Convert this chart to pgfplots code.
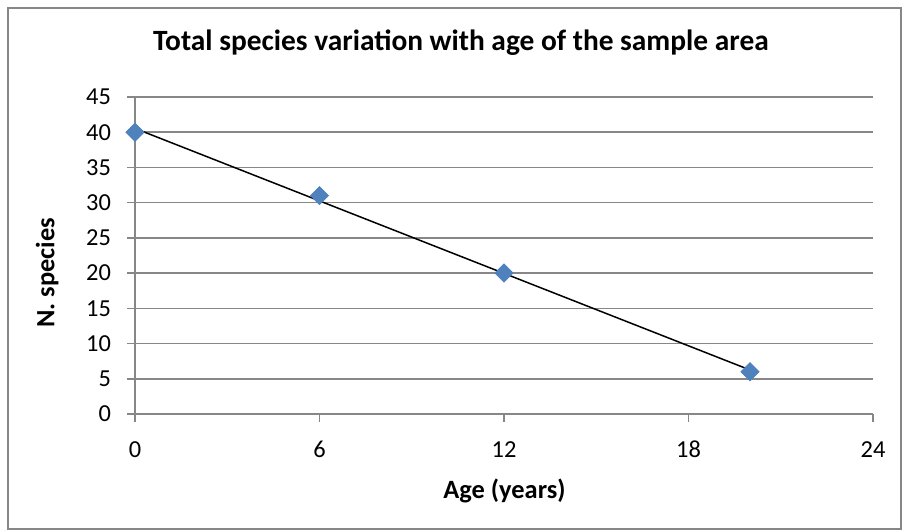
\documentclass[border=0pt]{standalone}
\usepackage{pgfplots}
\pgfplotsset{compat=1.18}
\usepackage{fontspec}
\setmainfont{Carlito}
\definecolor{exblue}{HTML}{4F81BD}
\definecolor{exgrid}{HTML}{878787}
\begin{document}
\begin{tikzpicture}[x=1pt,y=1pt]
\path (0,0) rectangle (451,265.5);
\draw[exgrid, line width=1pt] (4,0.75) rectangle (450.25,261.5);
\begin{axis}[
  at={(67.5pt,58.5pt)}, anchor=origin,
  scale only axis, width=369pt, height=158.5pt,
  xmin=0, xmax=24, ymin=0, ymax=45,
  xtick={0,6,12,18,24}, ytick={0,5,...,45},
  axis x line=bottom, axis y line=left,
  axis line style={-, exgrid, line width=0.8pt},
  ymajorgrids, grid style={exgrid, line width=0.8pt},
  tick style={exgrid, line width=0.8pt},
  major tick length=4pt,
  tick align=outside,
  ticklabel style={font=\fontsize{12.2}{14}\selectfont},
  /pgf/number format/assume math mode=true,
  xticklabel style={anchor=base, yshift=-17.5pt},
  yticklabel style={xshift=-4.5pt},
  xlabel={\textbf{Age (years)}},
  ylabel={\textbf{N. species}},
  label style={font=\fontsize{13.2}{15}\selectfont},
  xlabel style={at={(axis description cs:0.5007,-0.243)}, anchor=center},
  ylabel style={at={(axis description cs:-0.119,0.445)}, anchor=center},
  title={\textbf{Total species variation with age of the sample area}},
  title style={font=\fontsize{14.7}{17}\selectfont, at={(axis description cs:0.4417,1.135)}, anchor=center},
  clip=false,
]
\addplot[only marks, mark=square*, mark size=3.2pt, mark options={rotate=45, fill=exblue, draw=exblue}] coordinates {
  (0,40) (6,31) (12,20) (20,6)
};
\addplot[black, line width=0.75pt, no marks] coordinates {
  (0,40.54) (20,6.25)
};
\end{axis}
\end{tikzpicture}
\end{document}
